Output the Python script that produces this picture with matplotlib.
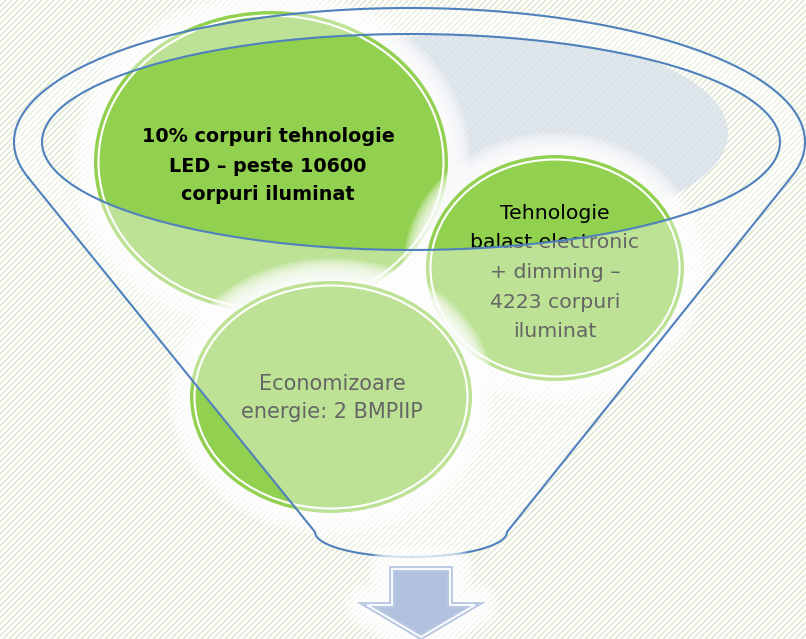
import numpy as np
import matplotlib
matplotlib.use("Agg")
import matplotlib.pyplot as plt
from matplotlib.patches import Ellipse, PathPatch, Polygon
from matplotlib.path import Path
from matplotlib.collections import LineCollection

# ---------------- content ----------------
stage_led = ["10% corpuri tehnologie", "LED – peste 10600", "corpuri iluminat"]
stage_tech = ["Tehnologie", "balast electronic", "+ dimming –", "4223 corpuri", "iluminat"]
stage_eco = ["Economizoare", "energie: 2 BMPIIP"]

# ---------------- style ----------------
GREEN = "#92D050"
BLUE = "#4F81BD"
HATCH = "#DFE8CF"
GRAY = "#D8E0EB"
ARROW = "#B2C2DE"

W, H = 806, 639
fig = plt.figure(figsize=(W / 100, H / 100), dpi=100)
ax = fig.add_axes([0, 0, 1, 1])
ax.set_xlim(0, W)
ax.set_ylim(H, 0)
ax.axis("off")

# background hatch
segs = [[(c, 0), (c - H, H)] for c in np.arange(0, W + H + 10, 6)]
ax.add_collection(LineCollection(segs, colors=HATCH, linewidths=1.1, zorder=0))

# funnel geometry
OC = (409.5, 142.0); ORX, ORY = 395.5, 134.0     # outer rim ellipse
IC = (411.0, 142.0); IRX, IRY = 369.0, 108.0     # inner rim ellipse
BC = (411.0, 532.0); BRX, BRY = 96.0, 25.0       # bottom spout ellipse
LCORNER = (BC[0] - BRX, BC[1])
RCORNER = (BC[0] + BRX, BC[1])


def ell(c, rx, ry, t):
    return np.column_stack([c[0] + rx * np.cos(t), c[1] + ry * np.sin(t)])


def tangent_t(P, lo, hi):
    ts = np.linspace(lo, hi, 20001)
    E = ell(OC, ORX, ORY, ts)
    dE = np.column_stack([-ORX * np.sin(ts), ORY * np.cos(ts)])
    f = (E[:, 0] - P[0]) * dE[:, 1] - (E[:, 1] - P[1]) * dE[:, 0]
    idx = np.where(np.sign(f[:-1]) != np.sign(f[1:]))[0]
    return ts[idx[0]]


tL = tangent_t(LCORNER, np.pi / 2, np.pi)
tR = tangent_t(RCORNER, 0.0, np.pi / 2)

rim = ell(OC, ORX, ORY, np.linspace(tL, 2 * np.pi + tR, 400))
bottom = ell(BC, BRX, BRY, np.linspace(0, np.pi, 100))
outer = np.vstack([rim, [RCORNER], bottom, [LCORNER], rim[:1]])
inner = ell(IC, IRX, IRY, np.linspace(2 * np.pi, 0, 400))

# gray interior of the funnel mouth (clipped to inner ellipse)
clip = Ellipse(IC, 2 * IRX, 2 * IRY, transform=ax.transData)
gray = Ellipse((478, 133), 2 * 250, 2 * 100, fc=GRAY, ec="none", alpha=0.75, zorder=1)
ax.add_patch(gray)
gray.set_clip_path(clip)

# circles
circles = [((271, 162), 176, 150), ((555, 268), 128, 112), ((331, 397), 140, 115)]
for i, ((cx, cy), rx, ry) in enumerate(circles):
    z = 2 + i
    for e in np.linspace(24, 3, 12):
        ax.add_patch(Ellipse((cx, cy), 2 * (rx + e), 2 * (ry + e), fc="white",
                             ec="none", alpha=0.2, zorder=z))
    ax.add_patch(Ellipse((cx, cy), 2 * rx, 2 * ry, fc=GREEN, ec=GREEN, lw=1.4, zorder=z))
    ax.add_patch(Ellipse((cx, cy), 2 * (rx - 3.5), 2 * (ry - 3.5), fc="none",
                         ec="white", lw=1.5, zorder=z))

# texts
for s, y in zip(stage_led, [142, 171.5, 200.5]):
    ax.text(268, y, s, ha="center", va="baseline", fontsize=13.8, fontweight="bold",
            color="black", family="DejaVu Sans", zorder=6)
for s, y in zip(stage_tech, [219, 248.5, 278, 307.5, 337]):
    ax.text(555, y, s, ha="center", va="baseline", fontsize=14.7,
            color="black", family="DejaVu Sans", zorder=6)
for s, y in zip(stage_eco, [390, 418]):
    ax.text(332, y, s, ha="center", va="baseline", fontsize=15,
            color="black", family="DejaVu Sans", zorder=6)

# funnel translucent white body (with mouth hole)
verts = np.vstack([outer, inner])
codes = ([Path.MOVETO] + [Path.LINETO] * (len(outer) - 1) +
         [Path.MOVETO] + [Path.LINETO] * (len(inner) - 1))
ax.add_patch(PathPatch(Path(verts, codes), fc="white", ec="none", alpha=0.4, zorder=7))

# outlines
ax.plot(outer[:, 0], outer[:, 1], color=BLUE, lw=1.5, zorder=8, solid_joinstyle="round")
ax.plot(inner[:, 0], inner[:, 1], color=BLUE, lw=1.5, zorder=8)

# down arrow
ac = 421
arrow = np.array([[ac - 29, 569], [ac + 29, 569], [ac + 29, 605], [ac + 54, 605],
                  [ac, 637], [ac - 54, 605], [ac - 29, 605]])
for lw in np.linspace(34, 8, 8):
    ax.add_patch(Polygon(arrow, closed=True, fc="white", ec="white", lw=lw, alpha=0.25,
                         joinstyle="round", zorder=9))
ax.add_patch(Polygon(arrow, closed=True, fc=ARROW, ec="#B9C8E3", lw=4.2,
                     joinstyle="miter", zorder=10))
ax.add_patch(Polygon(arrow, closed=True, fc="none", ec="white", lw=1.3,
                     joinstyle="miter", zorder=11))

fig.savefig("out.png", dpi=100)
